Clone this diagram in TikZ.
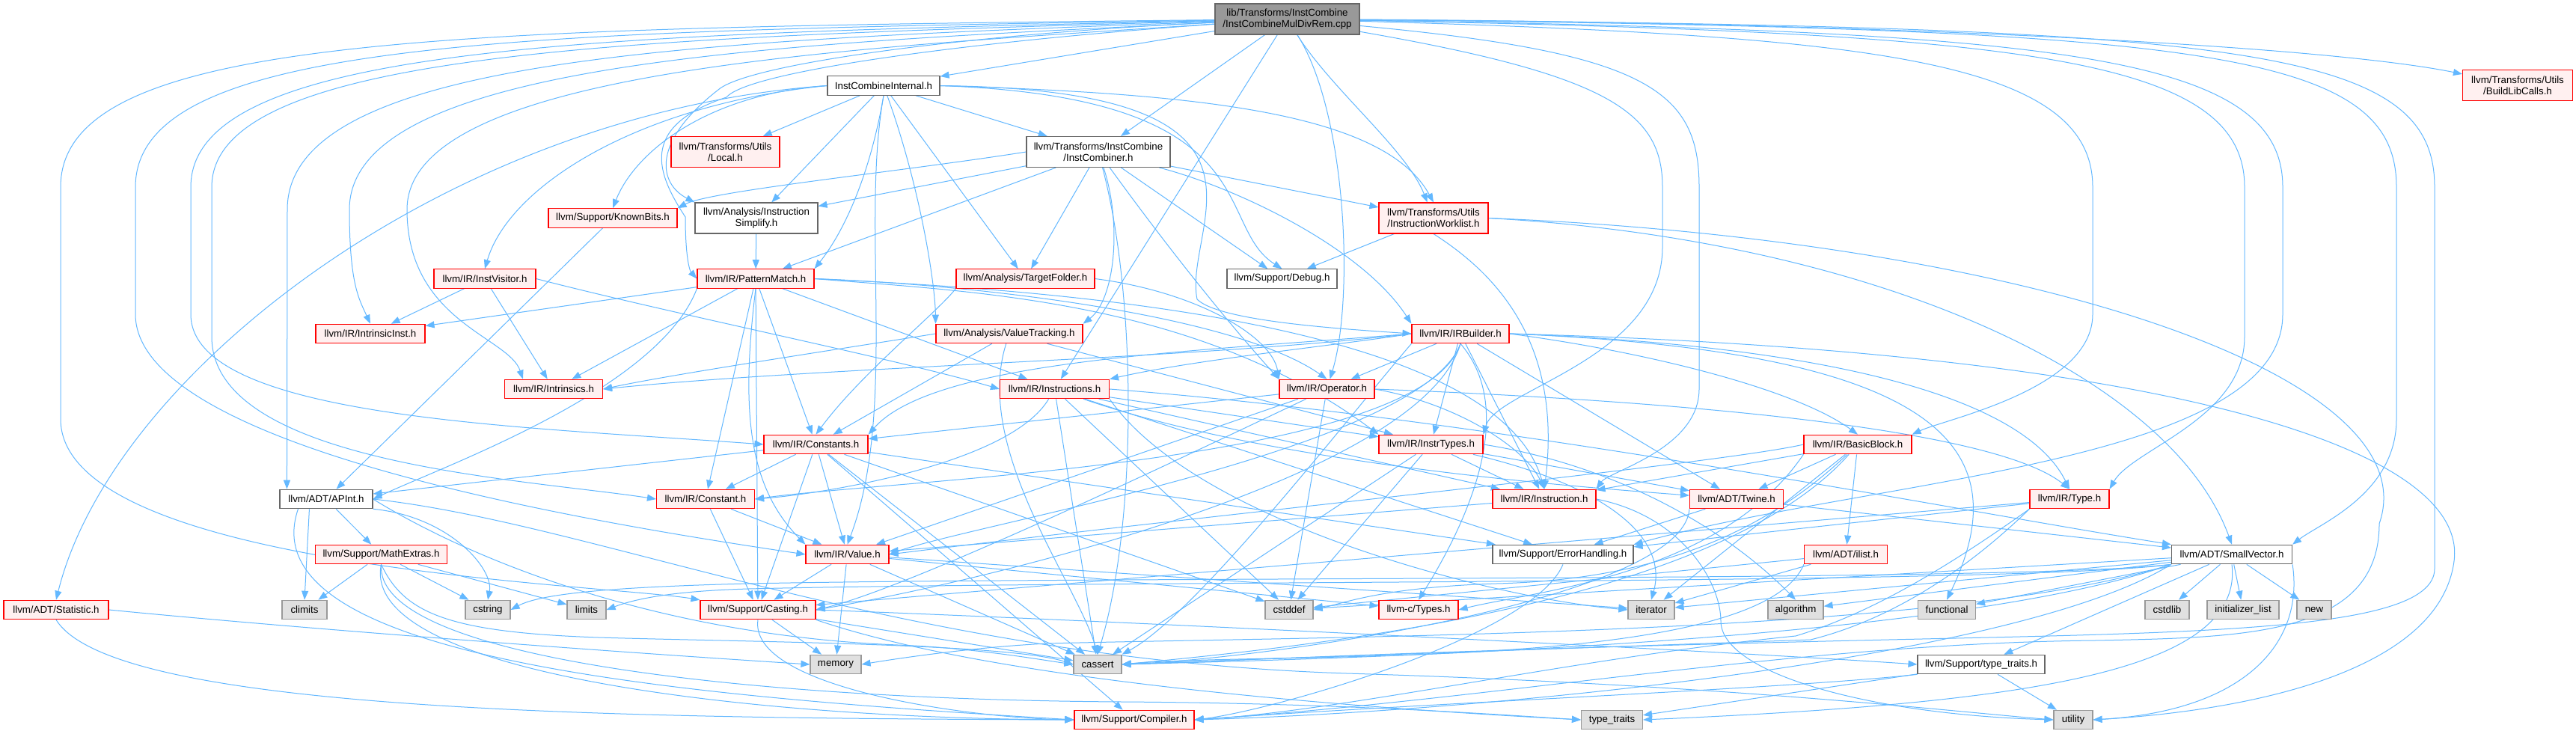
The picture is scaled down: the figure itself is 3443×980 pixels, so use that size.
\documentclass[tikz,border=0pt]{standalone}
\usepackage{fontspec}
\setmainfont{Liberation Sans}
\usetikzlibrary{arrows.meta}
\pgfdeclarelayer{back}
\pgfdeclarelayer{bg}
\pgfsetlayers{back,bg,main}
\definecolor{eblue}{HTML}{63B8FF}
\definecolor{redfill}{HTML}{FFF0F0}
\definecolor{grayfill}{HTML}{E0E0E0}
\definecolor{grayline}{HTML}{999999}
\definecolor{darkline}{HTML}{666666}
\definecolor{topfill}{HTML}{999999}
\newcommand{\nodefont}{\fontsize{13.3}{15}\selectfont}
\tikzset{
  nbase/.style={rectangle, inner xsep=4pt, inner ysep=0pt, minimum height=25.5pt, font=\nodefont, line width=1.1pt, align=center, text=black},
  wbox/.style={nbase, draw=darkline, fill=white},
  rbox/.style={nbase, draw=red, fill=redfill},
  gbox/.style={nbase, draw=grayline, fill=grayfill},
  topbox/.style={nbase, draw=darkline, fill=topfill},
  tall/.style={minimum height=41pt},
  dep/.style={draw=eblue, line width=1pt, -{Triangle[length=12pt,width=9pt]}},
}
\begin{document}
\begin{tikzpicture}[x=1pt,y=-1pt]
\useasboundingbox (0,0) rectangle (3443,980);
\begin{pgfonlayer}{back}
\fill[white] (0,0) rectangle (3443,980);
\end{pgfonlayer}
% ---------------- nodes ----------------
\node[topbox,tall,minimum width=193pt] (top) at (1720.5,25.5) {lib/Transforms/InstCombine\\/InstCombineMulDivRem.cpp};
\node[wbox,minimum width=150pt] (ici) at (1181,114.5) {InstCombineInternal.h};
\node[rbox,tall,minimum width=147pt] (bl) at (3365,114) {llvm/Transforms/Utils\\/BuildLibCalls.h};
\node[wbox,tall,minimum width=192pt] (icr) at (1468,203) {llvm/Transforms/InstCombine\\/InstCombiner.h};
\node[rbox,tall,minimum width=145pt] (local) at (969.5,203) {llvm/Transforms/Utils\\/Local.h};
\node[rbox,minimum width=172pt] (kb) at (819,291.5) {llvm/Support/KnownBits.h};
\node[wbox,tall,minimum width=164pt] (isimp) at (1011,291.5) {llvm/Analysis/Instruction\\Simplify.h};
\node[rbox,tall,minimum width=146pt] (iwl) at (1916,291.5) {llvm/Transforms/Utils\\/InstructionWorklist.h};
\node[rbox,minimum width=136pt] (iv) at (648,372.5) {llvm/IR/InstVisitor.h};
\node[rbox,minimum width=156pt] (pm) at (1010,372.5) {llvm/IR/PatternMatch.h};
\node[rbox,minimum width=185pt] (tf) at (1370.5,372.5) {llvm/Analysis/TargetFolder.h};
\node[wbox,minimum width=147pt] (dbg) at (1713.5,372.5) {llvm/Support/Debug.h};
\node[rbox,minimum width=130pt] (iib) at (1952,446) {llvm/IR/IRBuilder.h};
\node[rbox,minimum width=196pt] (vt) at (1349,446) {llvm/Analysis/ValueTracking.h};
\node[rbox,minimum width=146pt] (ii) at (495,446) {llvm/IR/IntrinsicInst.h};
\node[rbox,minimum width=131pt] (intr) at (740,520) {llvm/IR/Intrinsics.h};
\node[rbox,minimum width=146pt] (insts) at (1409.5,520) {llvm/IR/Instructions.h};
\node[rbox,minimum width=127pt] (op) at (1773.5,520) {llvm/IR/Operator.h};
\node[rbox,minimum width=139pt] (consts) at (1090.5,594) {llvm/IR/Constants.h};
\node[rbox,minimum width=139pt] (itypes) at (1912.5,594) {llvm/IR/InstrTypes.h};
\node[rbox,minimum width=144pt] (bb) at (2483,594) {llvm/IR/BasicBlock.h};
\node[wbox,minimum width=124pt] (apint) at (436,667) {llvm/ADT/APInt.h};
\node[rbox,minimum width=131pt] (const) at (943,667) {llvm/IR/Constant.h};
\node[rbox,minimum width=138pt] (inst) at (2064,667) {llvm/IR/Instruction.h};
\node[rbox,minimum width=125pt] (twine) at (2321,667) {llvm/ADT/Twine.h};
\node[rbox,minimum width=106pt] (type) at (2766,667) {llvm/IR/Type.h};
\node[rbox,minimum width=111pt] (value) at (1132.5,741) {llvm/IR/Value.h};
\node[wbox,minimum width=188pt] (errh) at (2089,741) {llvm/Support/ErrorHandling.h};
\node[wbox,minimum width=161pt] (sv) at (2983,741) {llvm/ADT/SmallVector.h};
\node[rbox,minimum width=176pt] (math) at (509.5,741) {llvm/Support/MathExtras.h};
\node[rbox,minimum width=111pt] (ilist) at (2467,741) {llvm/ADT/ilist.h};
\node[rbox,minimum width=140pt] (stat) at (75,815) {llvm/ADT/Statistic.h};
\node[gbox,minimum width=60pt] (climits) at (407,815) {climits};
\node[gbox,minimum width=60pt] (cstring) at (652,815) {cstring};
\node[gbox,minimum width=52pt] (limits) at (784,815) {limits};
\node[rbox,minimum width=154pt] (casting) at (1013,815) {llvm/Support/Casting.h};
\node[gbox,minimum width=64pt] (cstddef) at (1723,815) {cstddef};
\node[rbox,minimum width=106pt] (ctypes) at (1896,815) {llvm-c/Types.h};
\node[gbox,minimum width=62pt] (iterator) at (2207,815) {iterator};
\node[gbox,minimum width=74pt] (algorithm) at (2400,815) {algorithm};
\node[gbox,minimum width=77pt] (functional) at (2602,815) {functional};
\node[gbox,minimum width=59pt] (cstdlib) at (2896.5,815) {cstdlib};
\node[gbox,minimum width=96pt] (initlist) at (2998,815) {initializer\_list};
\node[gbox,minimum width=46pt] (newh) at (3093,815) {new};
\node[gbox,minimum width=68pt] (memory) at (1117,888) {memory};
\node[gbox,minimum width=64pt] (cassert) at (1467,888) {cassert};
\node[wbox,minimum width=170pt] (tt) at (2648,888) {llvm/Support/type\_traits.h};
\node[rbox,minimum width=160pt] (compiler) at (1516,962) {llvm/Support/Compiler.h};
\node[gbox,minimum width=82pt] (typetraits) at (2154.5,962) {type\_traits};
\node[gbox,minimum width=52pt] (utility) at (2771,962) {utility};
% ---------------- edges ----------------
\begin{pgfonlayer}{bg}
% top node
\draw[dep] (top) -- (ici);
\draw[dep] (top) -- (icr);
\draw[dep] (top) .. controls (2500,30) and (3100,60) .. (bl);
\draw[dep] (top) .. controls (1780,120) and (1880,200) .. (iwl);
\draw[dep] (top) .. controls (1800,150) and (1810,400) .. (op);
\draw[dep] (top) .. controls (2150,100) and (2222,150) .. (2222,250) -- (2222,330) .. controls (2222,480) and (2000,520) .. (itypes.north east);
\draw[dep] (top) .. controls (2200,70) and (2271,120) .. (2271,250) -- (2271,520) .. controls (2271,600) and (2150,630) .. (inst.north east);
\draw[dep] (top) .. controls (2500,48) and (2797,80) .. (2797,250) -- (2797,420) .. controls (2797,520) and (2600,560) .. (bb.north east);
\draw[dep] (top) .. controls (2700,44) and (3000,75) .. (3000,250) -- (3000,450) .. controls (3000,560) and (2850,600) .. (type.north east);
\draw[dep] (top) .. controls (2750,42) and (3051,72) .. (3051,250) -- (3051,420) .. controls (3051,620) and (2500,640) .. (errh.north east);
\draw[dep] (top) .. controls (2950,38) and (3203,68) .. (3203,250) -- (3203,560) .. controls (3203,660) and (3100,700) .. (sv.north east);
\draw[dep] (top) .. controls (3000,36) and (3254,62) .. (3254,250) -- (3254,760) .. controls (3254,850) and (2900,845) .. (2400,858) .. controls (1900,870) and (1600,885) .. (cassert.east);
\draw[dep] (top) .. controls (600,38) and (81,45) .. (81,250) -- (81,560) .. controls (81,760) and (800,780) .. (casting.north west);
\draw[dep] (top) .. controls (700,42) and (181,50) .. (181,250) -- (181,420) .. controls (181,600) and (800,700) .. (value.west);
\draw[dep] (top) .. controls (800,46) and (255,58) .. (255,250) -- (255,420) .. controls (255,560) and (700,570) .. (consts.west);
\draw[dep] (top) .. controls (850,50) and (283,66) .. (283,250) -- (283,450) .. controls (283,620) and (700,640) .. (const.west);
\draw[dep] (top) .. controls (950,54) and (384,72) .. (384,280) -- ([xshift=10pt]apint.north west);
\draw[dep] (top) .. controls (1050,58) and (467,80) .. (467,280) .. controls (467,380) and (480,400) .. (ii.north);
\draw[dep] (top) .. controls (1150,64) and (544,90) .. (544,280) .. controls (544,430) and (680,450) .. ([xshift=25pt]intr.north west);
\draw[dep] (top) .. controls (1300,55) and (1000,95) .. (971,130) .. controls (850,170) and (880,235) .. (916,290) .. controls (916,345) and (922,362) .. (pm.west);
\draw[dep] (top) .. controls (1300,45) and (1000,85) .. (960,120) .. controls (870,190) and (880,245) .. (isimp.north west);
\draw[dep] (top) -- (insts);
% InstCombineInternal.h
\draw[dep] (ici) -- (local);
\draw[dep] (ici) -- (isimp);
\draw[dep] (ici) -- (icr);
\draw[dep] (ici.west) .. controls (950,125) and (850,200) .. (kb.north);
\draw[dep] (ici.west) .. controls (600,150) and (150,500) .. (stat.north);
\draw[dep] (ici.west) .. controls (850,140) and (680,250) .. (iv.north);
\draw[dep] (ici.south) .. controls (1160,250) and (1120,320) .. (pm.north east);
\draw[dep] (ici) -- (tf);
\draw[dep] (ici) .. controls (1230,250) and (1250,380) .. (vt.north west);
\draw[dep] (ici.south) .. controls (1150,300) and (1200,550) .. (value.north);
\draw[dep] (ici.east) .. controls (1750,120) and (1580,300) .. (1600,400) .. controls (1630,430) and (1800,440) .. (iib.west);
\draw[dep] (ici.east) .. controls (1700,130) and (1620,300) .. (dbg.north);
\draw[dep] (ici.east) .. controls (1600,125) and (1850,150) .. (iwl.north);
% InstCombiner.h
\draw[dep] (icr.west) .. controls (1200,230) and (950,255) .. (kb.north east);
\draw[dep] (icr) -- (isimp);
\draw[dep] (icr) -- (pm);
\draw[dep] (icr) -- (tf);
\draw[dep] (icr) .. controls (1500,300) and (1490,400) .. (vt.north east);
\draw[dep] (icr) .. controls (1650,250) and (1820,330) .. (iib.north west);
\draw[dep] (icr) -- (dbg);
\draw[dep] (icr) -- (iwl);
\draw[dep] (icr) .. controls (1560,330) and (1640,430) .. (op.north west);
\draw[dep] (icr) .. controls (1520,400) and (1520,700) .. (cassert.north);
% misc upper
\draw[dep] (isimp) -- (pm);
\draw[dep] (kb) -- (apint);
\draw[dep] (iwl) -- (dbg);
\draw[dep] (iwl.south) .. controls (1990,360) and (2090,450) .. (inst.north);
\draw[dep] (iwl.east) .. controls (2500,320) and (2900,500) .. (sv.north);
\draw[dep] (iwl.east) .. controls (2700,320) and (3250,500) .. (3180,700) .. controls (3180,850) and (3000,852) .. (2800,856) .. controls (2400,860) and (2000,935) .. (compiler.east);
% InstVisitor.h
\draw[dep] (iv) -- (ii);
\draw[dep] (iv) -- (intr);
\draw[dep] (iv.east) .. controls (900,420) and (1200,480) .. (insts.west);
% PatternMatch.h
\draw[dep] (pm.south west) .. controls (880,520) and (600,620) .. (apint.east);
\draw[dep] (pm) -- (const);
\draw[dep] (pm) -- (consts);
\draw[dep] (pm.east) .. controls (1300,390) and (1600,400) .. (itypes.north west);
\draw[dep] (pm.east) .. controls (1350,385) and (2000,420) .. (inst.north);
\draw[dep] (pm) -- (insts);
\draw[dep] (pm) -- (ii);
\draw[dep] (pm) -- (intr);
\draw[dep] (pm.east) .. controls (1300,380) and (1650,420) .. (op.north);
\draw[dep] (pm.south) .. controls (990,550) and (1000,650) .. (value.north west);
\draw[dep] (pm) -- (casting);
% ValueTracking.h
\draw[dep] (vt) -- (consts);
\draw[dep] (vt) -- (itypes);
\draw[dep] (vt.west) .. controls (1100,470) and (900,500) .. (intr.east);
\draw[dep] (vt) .. controls (1300,600) and (1440,780) .. (cassert.north);
% TargetFolder.h
\draw[dep] (tf.south west) .. controls (1250,420) and (1150,500) .. (consts.north);
\draw[dep] (tf.east) .. controls (1600,390) and (1700,450) .. (op.north west);
% IRBuilder.h
\draw[dep] (iib) -- (op);
\draw[dep] (iib) -- (itypes);
\draw[dep] (iib) -- (inst);
\draw[dep] (iib) -- (twine);
\draw[dep] (iib.west) .. controls (1800,460) and (1600,480) .. (insts.north east);
\draw[dep] (iib.west) .. controls (1600,470) and (1250,480) .. (consts.north east);
\draw[dep] (iib.south) .. controls (1900,620) and (1200,640) .. (const.east);
\draw[dep] (iib.west) .. controls (1600,480) and (1100,490) .. (intr.east);
\draw[dep] (iib.south) .. controls (1900,600) and (1300,700) .. (value.east);
\draw[dep] (iib.south) .. controls (1900,640) and (1300,780) .. (casting.east);
\draw[dep] (iib.south west) .. controls (1800,560) and (1600,820) .. (cassert.north east);
\draw[dep] (iib.south) .. controls (2030,550) and (1960,700) .. (ctypes.north);
\draw[dep] (iib.east) .. controls (2200,470) and (2400,520) .. (bb.north);
\draw[dep] (iib.east) .. controls (2400,460) and (2700,520) .. (type.north);
\draw[dep] (iib.east) .. controls (2600,470) and (2700,600) .. (functional.north);
\draw[dep] (iib.east) .. controls (2900,470) and (3300,600) .. (3280,750) .. controls (3260,900) and (3000,950) .. (utility.east);
% Instructions.h
\draw[dep] (insts) -- (itypes);
\draw[dep] (insts) -- (inst);
\draw[dep] (insts) .. controls (1700,620) and (2100,650) .. (twine);
\draw[dep] (insts) -- (errh);
\draw[dep] (insts.east) .. controls (2000,560) and (2600,680) .. (sv.north west);
\draw[dep] (insts) .. controls (1350,620) and (1100,660) .. (const.east);
\draw[dep] (insts) -- (cassert);
\draw[dep] (insts) -- (cstddef);
\draw[dep] (insts.south east) .. controls (1600,700) and (2000,800) .. (iterator.west);
% Operator.h
\draw[dep] (op.east) .. controls (1950,540) and (2040,600) .. (inst.north);
\draw[dep] (op.east) .. controls (2100,530) and (2650,560) .. (type.north);
\draw[dep] (op) -- (consts);
\draw[dep] (op) -- (value);
\draw[dep] (op) .. controls (1500,650) and (1200,790) .. (casting.east);
\draw[dep] (op) -- (cstddef);
% Constants.h
\draw[dep] (consts) -- (const);
\draw[dep] (consts) -- (value);
\draw[dep] (consts) -- (apint);
\draw[dep] (consts) -- (casting);
\draw[dep] (consts) -- (compiler);
\draw[dep] (consts) -- (errh);
\draw[dep] (consts) -- (cassert);
\draw[dep] (consts) -- (cstddef);
% InstrTypes.h
\draw[dep] (itypes) -- (inst);
\draw[dep] (itypes) -- (twine);
\draw[dep] (itypes.east) .. controls (2150,620) and (2300,700) .. (algorithm.north);
\draw[dep] (itypes) -- (cassert);
\draw[dep] (itypes) -- (cstddef);
\draw[dep] (itypes) .. controls (2150,650) and (2230,720) .. (iterator.north);
% BasicBlock.h
\draw[dep] (bb) -- (twine);
\draw[dep] (bb) -- (inst);
\draw[dep] (bb) -- (ilist);
\draw[dep] (bb.west) .. controls (2300,620) and (1600,690) .. (value.east);
\draw[dep] (bb) .. controls (2300,800) and (1800,860) .. (cassert.east);
\draw[dep] (bb) .. controls (2350,720) and (2200,775) .. (2000,780) .. controls (1850,785) and (1800,805) .. (cstddef.east);
\draw[dep] (bb) -- (iterator);
\draw[dep] (bb.south west) .. controls (2300,770) and (2050,790) .. (ctypes.east);
% APInt.h
\draw[dep] (apint) -- (math);
\draw[dep] ([xshift=40pt]apint.south west) -- (climits.north);
\draw[dep] (apint.south east) .. controls (600,690) and (660,760) .. (cstring.north);
\draw[dep] ([xshift=25pt]apint.south west) .. controls (330,880) and (900,930) .. (compiler.west);
\draw[dep] (apint.east) .. controls (650,760) and (900,850) .. (1200,862) .. controls (1300,866) and (1380,880) .. (cassert.west);
\draw[dep] (apint.east) .. controls (800,700) and (1200,880) .. (1800,900) .. controls (2300,915) and (2600,950) .. (utility.west);
% MathExtras.h
\draw[dep] (math) -- (climits);
\draw[dep] (math) -- (cstring);
\draw[dep] (math) -- (limits);
\draw[dep] (math.south) .. controls (480,900) and (1000,960) .. (compiler.west);
\draw[dep] (math.south) .. controls (540,820) and (600,845) .. (800,852) .. controls (1000,858) and (1350,860) .. (cassert.west);
\draw[dep] (math.south) .. controls (500,880) and (1000,935) .. (1500,938) .. controls (1800,940) and (2000,955) .. (typetraits.west);
% Constant.h, Instruction.h, Twine.h, Type.h
\draw[dep] (const) -- (value);
\draw[dep] (const) -- (casting);
\draw[dep] (inst) -- (value);
\draw[dep] (inst.east) .. controls (2250,690) and (2300,780) .. (2300,830) .. controls (2300,900) and (2500,955) .. (utility.west);
\draw[dep] (twine) -- (errh);
\draw[dep] (twine) -- (sv);
\draw[dep] (twine.south west) .. controls (2250,800) and (1700,880) .. (cassert.east);
\draw[dep] (type) -- (errh);
\draw[dep] (type) -- (casting);
\draw[dep] (type.south west) .. controls (2600,760) and (2500,820) .. (2400,850) .. controls (2100,880) and (1800,950) .. (compiler.east);
\draw[dep] (type.south west) .. controls (2620,770) and (2520,830) .. (2420,855) .. controls (2000,870) and (1700,880) .. (cassert.east);
% Value.h, ErrorHandling.h
\draw[dep] (value) -- (casting);
\draw[dep] (value) -- (memory);
\draw[dep] (value) -- (cassert);
\draw[dep] (value) -- (ctypes);
\draw[dep] (value) -- (iterator);
\draw[dep] (errh.south) .. controls (2050,850) and (1700,950) .. (compiler.east);
% SmallVector.h
\draw[dep] (sv) -- (cstdlib);
\draw[dep] (sv) -- (initlist);
\draw[dep] (sv) -- (newh);
\draw[dep] (sv) -- (functional);
\draw[dep] (sv) -- (algorithm);
\draw[dep] (sv) -- (iterator);
\draw[dep] (sv) -- (cstddef);
\draw[dep] (sv.south west) .. controls (2700,778) and (1500,770) .. (1000,780) .. controls (800,785) and (720,795) .. (cstring.east);
\draw[dep] (sv.south west) .. controls (2700,782) and (1500,775) .. (1000,787) .. controls (900,790) and (850,800) .. (limits.east);
\draw[dep] (sv.south west) .. controls (2600,850) and (1800,850) .. (1400,860) .. controls (1300,865) and (1200,880) .. (memory.east);
\draw[dep] (sv.south west) .. controls (2600,860) and (1800,880) .. (cassert.east);
\draw[dep] (sv.south west) .. controls (2700,880) and (2000,950) .. (compiler.east);
\draw[dep] (sv) -- (tt);
\draw[dep] (sv.south) .. controls (3000,900) and (2700,940) .. (typetraits.east);
\draw[dep] (sv.south east) .. controls (3080,860) and (3000,950) .. (utility.east);
% ilist.h
\draw[dep] (ilist) -- (iterator);
\draw[dep] (ilist) -- (cstddef);
\draw[dep] (ilist.south west) .. controls (2350,900) and (1700,870) .. (cassert.east);
% Casting.h
\draw[dep] (casting) -- (memory);
\draw[dep] (casting) -- (cassert);
\draw[dep] (casting.south) .. controls (1000,920) and (1300,960) .. (compiler.west);
\draw[dep] (casting.east) .. controls (1500,830) and (2300,870) .. (tt.west);
\draw[dep] (casting.south east) .. controls (1300,900) and (1700,940) .. (typetraits.west);
% Statistic.h
\draw[dep] (stat.south) .. controls (150,950) and (800,960) .. (compiler.west);
\draw[dep] (stat.east) .. controls (400,840) and (800,870) .. (memory.west);
% type_traits.h
\draw[dep] (tt) -- (utility);
\draw[dep] (tt) -- (typetraits);
\draw[dep] (tt.south west) .. controls (2400,920) and (1900,940) .. (compiler.east);
\end{pgfonlayer}
\end{tikzpicture}
\end{document}
